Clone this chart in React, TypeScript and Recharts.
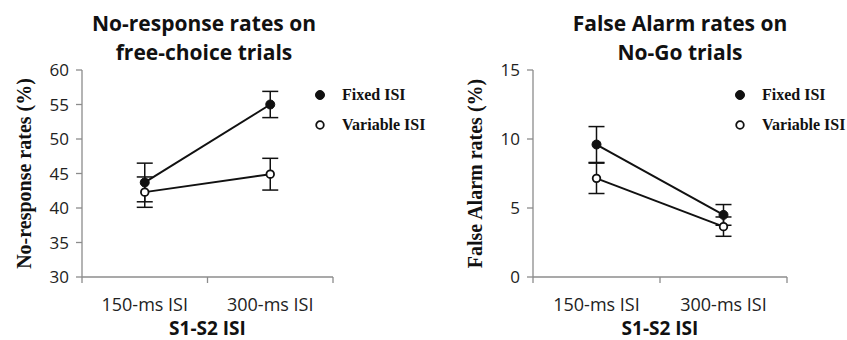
import { LineChart, Line, XAxis, YAxis, ErrorBar } from 'recharts';

const categories = ['150-ms ISI', '300-ms ISI'];
const seriesNames = ['Fixed ISI', 'Variable ISI'];

const noRespFixed = [43.7, 55.0];
const noRespFixedErr = [2.8, 1.9];
const noRespVariable = [42.3, 44.9];
const noRespVariableErr = [2.2, 2.3];
const noRespTicks = [30, 35, 40, 45, 50, 55, 60];

const faFixed = [9.6, 4.5];
const faFixedErr = [1.3, 0.75];
const faVariable = [7.15, 3.65];
const faVariableErr = [1.1, 0.7];
const faTicks = [0, 5, 10, 15];

const AXIS = '#8c8c8c';
const INK = '#111';
const SANS = '"Open Sans", sans-serif';
const SERIF = '"Liberation Serif", "Times New Roman", serif';

function buildRows(fixed: number[], fixedErr: number[], variable: number[], variableErr: number[]) {
  return categories.map((c, i) => ({
    pos: i + 0.5,
    name: c,
    fixed: fixed[i],
    fixedErr: fixedErr[i],
    variable: variable[i],
    variableErr: variableErr[i],
  }));
}

function XTick(props: any) {
  const { x, y, payload } = props;
  const v = payload.value;
  if (Number.isInteger(v)) {
    return <line x1={x} y1={y} x2={x} y2={y + 6} stroke={AXIS} strokeWidth={1.3} />;
  }
  return (
    <text x={x} y={y + 34} textAnchor="middle" fontSize={18} fill="#222" fontFamily={SANS}>
      {categories[Math.floor(v)]}
    </text>
  );
}

function LegendBox({ left }: { left: number }) {
  return (
    <div
      style={{
        position: 'absolute',
        left,
        top: 80,
        fontFamily: SERIF,
        fontWeight: 'bold',
        fontSize: 16,
        color: '#111',
      }}
    >
      {seriesNames.map((n, i) => (
        <div key={n} style={{ display: 'flex', alignItems: 'center', height: 30 }}>
          <svg width={29} height={12}>
            <circle
              cx={7}
              cy={6}
              r={i === 0 ? 4.5 : 3.8}
              fill={i === 0 ? INK : '#fff'}
              stroke={INK}
              strokeWidth={i === 0 ? 1 : 1.8}
            />
          </svg>
          <span>{n}</span>
        </div>
      ))}
    </div>
  );
}

interface PanelProps {
  left: number;
  width: number;
  yAxisWidth: number;
  marginRight: number;
  domain: [number, number];
  ticks: number[];
  rows: ReturnType<typeof buildRows>;
  yLabel: string;
  yLabelX: number;
  title: string[];
  titleCenter: number;
}

function Panel(p: PanelProps) {
  return (
    <>
      <div
        style={{
          position: 'absolute',
          left: p.titleCenter - 160,
          width: 320,
          top: 9,
          textAlign: 'center',
          fontFamily: SANS,
          fontWeight: 'bold',
          fontSize: 21,
          lineHeight: '29px',
          color: '#111',
        }}
      >
        {p.title.map((t) => (
          <div key={t}>{t}</div>
        ))}
      </div>
      <div style={{ position: 'absolute', left: p.left, top: 0 }}>
        <LineChart
          width={p.width}
          height={340}
          data={p.rows}
          margin={{ top: 70, right: p.marginRight, bottom: 3, left: 0 }}
        >
          <XAxis
            dataKey="pos"
            type="number"
            domain={[0, 2]}
            ticks={[0, 0.5, 1, 1.5, 2]}
            tick={(t: any) => <XTick {...t} />}
            tickLine={false}
            tickSize={0}
            tickMargin={0}
            stroke={AXIS}
            strokeWidth={1.3}
            height={60}
            label={{
              value: 'S1-S2 ISI',
              position: 'insideBottom',
              offset: 2,
              style: { fontFamily: SANS, fontWeight: 'bold', fontSize: 19, fill: '#111' },
            }}
          />
          <YAxis
            type="number"
            domain={p.domain}
            ticks={p.ticks}
            width={p.yAxisWidth}
            stroke={AXIS}
            strokeWidth={1.3}
            tickSize={6}
            tickMargin={7}
            tick={{ fontFamily: SANS, fontSize: 17, fill: '#222' }}
            label={{
              value: p.yLabel,
              angle: -90,
              position: 'insideLeft',
              offset: p.yLabelX,
              style: { textAnchor: 'middle', fontFamily: SERIF, fontWeight: 'bold', fontSize: 20, fill: '#111' },
            }}
          />
          <Line
            dataKey="fixed"
            name={seriesNames[0]}
            stroke={INK}
            strokeWidth={2}
            dot={{ r: 4.5, fill: INK, stroke: INK, strokeWidth: 1 }}
            isAnimationActive={false}
          >
            <ErrorBar dataKey="fixedErr" direction="y" width={8} stroke={INK} strokeWidth={1.5} />
          </Line>
          <Line
            dataKey="variable"
            name={seriesNames[1]}
            stroke={INK}
            strokeWidth={2}
            dot={{ r: 3.8, fill: '#fff', stroke: INK, strokeWidth: 1.8 }}
            isAnimationActive={false}
          >
            <ErrorBar dataKey="variableErr" direction="y" width={8} stroke={INK} strokeWidth={1.5} />
          </Line>
        </LineChart>
      </div>
      <LegendBox left={p.left + 313} />
    </>
  );
}

export default function App() {
  return (
    <div style={{ position: 'absolute', left: 0, top: 0, width: 847, height: 340, background: '#fff' }}>
      <Panel
        left={0}
        width={420}
        yAxisWidth={82}
        marginRight={87}
        domain={[30, 60]}
        ticks={noRespTicks}
        rows={buildRows(noRespFixed, noRespFixedErr, noRespVariable, noRespVariableErr)}
        yLabel="No-response rates (%)"
        yLabelX={24}
        title={['No-response rates on', 'free-choice trials']}
        titleCenter={204}
      />
      <Panel
        left={420}
        width={427}
        yAxisWidth={113}
        marginRight={60}
        domain={[0, 15]}
        ticks={faTicks}
        rows={buildRows(faFixed, faFixedErr, faVariable, faVariableErr)}
        yLabel="False Alarm rates (%)"
        yLabelX={55}
        title={['False Alarm rates on', 'No-Go trials']}
        titleCenter={680}
      />
    </div>
  );
}
